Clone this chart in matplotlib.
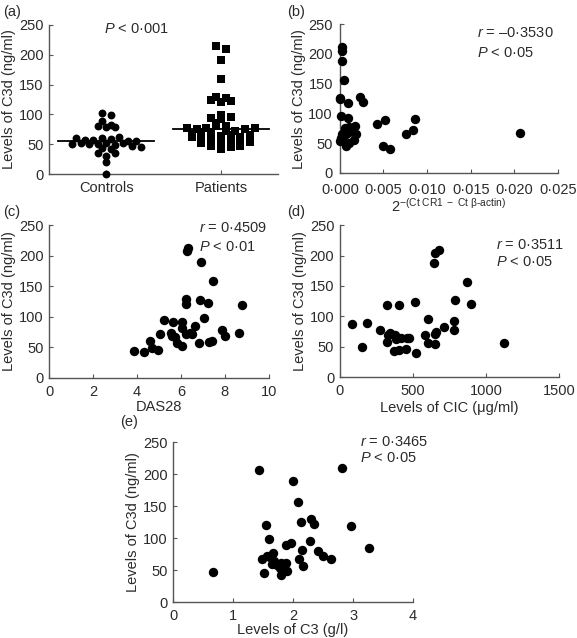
import numpy as np
import matplotlib
matplotlib.use('Agg')
import matplotlib.pyplot as plt
from matplotlib.ticker import FuncFormatter

plt.rcParams['font.family'] = ['Liberation Sans', 'DejaVu Sans']
plt.rcParams['mathtext.fontset'] = 'custom'
plt.rcParams['mathtext.rm'] = 'Liberation Sans'
plt.rcParams['mathtext.it'] = 'Liberation Sans:italic'

# ---- data ----
controls = [102, 99, 89, 80, 79, 79, 82, 60, 58, 57, 61, 59, 62, 56, 50, 52,
            50, 51, 53, 49, 52, 48, 55, 45, 43, 42, 35, 31, 35, 20, 1]
patients = [214, 209, 191, 160, 130, 125, 121, 123, 127, 99, 94, 92, 96, 85,
            81, 78, 76, 78, 80, 67, 70, 71, 72, 73, 75, 77, 64, 65, 63, 62,
            66, 60, 58, 55, 52, 56, 57, 54, 48, 45, 42, 46, 47]
group_medians = [55, 75]
group_names = ['Controls', 'Patients']

cr1_x = [0.0002, 0.0002, 0.0002, 0.0005, 0.0000, 0.0009, 0.0023, 0.0027,
         0.0001, 0.0009, 0.0043, 0.0052, 0.0086, 0.0084, 0.0076, 0.0050,
         0.0058, 0.0006, 0.0007, 0.0010, 0.0012, 0.0017, 0.0018, 0.0001,
         0.0004, 0.0000, 0.0007, 0.0011, 0.0016, 0.0010, 0.0007, 0.0002,
         0.0206, 0.0000]
cr1_y = [211, 205, 188, 156, 124, 118, 127, 120, 96, 93, 82, 89, 90, 72, 65,
         45, 41, 75, 72, 77, 73, 79, 65, 58, 61, 54, 46, 50, 56, 69, 65, 66,
         67, 126]

das_x = [3.86, 4.34, 4.60, 4.67, 4.97, 5.04, 5.24, 5.64, 5.54, 5.58, 5.72,
         5.84, 6.03, 6.03, 6.03, 6.24, 6.24, 6.24, 6.32, 6.29, 6.41, 6.62,
         6.51, 6.86, 6.84, 6.93, 7.07, 7.22, 7.28, 7.40, 7.44, 7.89, 8.01,
         8.65, 8.76]
das_y = [43, 42, 60, 48, 46, 72, 95, 91, 74, 68, 67, 57, 52, 91, 82, 72, 129,
         121, 212, 208, 74, 84, 71, 127, 57, 190, 98, 122, 58, 60, 158, 79,
         68, 73, 120]

cic_x = [85, 150, 186, 274, 321, 325, 332, 377, 386, 404, 370, 404, 415, 453,
         460, 471, 511, 520, 583, 601, 601, 646, 650, 677, 650, 655, 650, 713,
         778, 778, 789, 870, 897, 1121, 345]
cic_y = [88, 49, 89, 78, 119, 58, 70, 69, 62, 118, 43, 44, 65, 46, 65, 65,
         124, 40, 70, 96, 56, 188, 205, 210, 71, 74, 54, 82, 93, 78, 127, 157,
         121, 56, 73]

c3_x = [1.43, 2.82, 1.99, 2.08, 1.55, 2.13, 2.30, 2.34, 2.97, 1.60, 1.88,
        1.97, 2.28, 3.27, 2.14, 2.41, 2.49, 2.63, 2.09, 2.16, 0.66, 1.48,
        1.57, 1.66, 1.62, 1.68, 1.73, 1.79, 1.85, 1.88, 1.78, 1.90, 1.80,
        1.52, 1.65]
c3_y = [206, 210, 189, 157, 120, 125, 130, 122, 119, 98, 90, 92, 95, 84, 81,
        80, 72, 68, 67, 56, 47, 68, 73, 77, 70, 65, 58, 61, 59, 62, 53, 49,
        42, 45, 60]

stats_a = r'$\it{P}$ < 0·001'
stats_b = [r'$\it{r}$ = –0·3530', r'$\it{P}$ < 0·05']
stats_c = [r'$\it{r}$ = 0·4509', r'$\it{P}$ < 0·01']
stats_d = [r'$\it{r}$ = 0·3511', r'$\it{P}$ < 0·05']
stats_e = [r'$\it{r}$ = 0·3465', r'$\it{P}$ < 0·05']

INK = '#2b2b2b'
AXC = '#555555'
FS = 10.5
DOT = 46


def swarm_offsets(vals, bin_w=9.0, dx=0.08):
    vals = np.asarray(vals, dtype=float)
    bins = np.floor(vals / bin_w).astype(int)
    off = np.zeros(len(vals))
    for b in np.unique(bins):
        idx = np.where(bins == b)[0]
        n = len(idx)
        off[idx] = (np.arange(n) - (n - 1) / 2) * dx
    return off


def dot_fmt(dec):
    return FuncFormatter(lambda v, p: f'{v:.{dec}f}'.replace('.', '·'))


def style(ax):
    for s in ['top', 'right']:
        ax.spines[s].set_visible(False)
    for s in ['left', 'bottom']:
        ax.spines[s].set_color(AXC)
        ax.spines[s].set_linewidth(1.0)
    ax.tick_params(direction='in', length=3, width=0.8, color=AXC,
                   labelsize=FS, labelcolor=INK, pad=4)
    ax.tick_params(axis='x', pad=5)
    ax.set_ylim(0, 250)
    ax.set_yticks([0, 50, 100, 150, 200, 250])
    ax.set_ylabel('Levels of C3d (ng/ml)', fontsize=FS, color=INK, labelpad=2)
    ax.margins(0)


def stats_text(ax, lines, x, y1, y2):
    ax.text(x, y1, lines[0], transform=ax.transAxes, fontsize=FS, color=INK,
            va='center', ha='left')
    ax.text(x, y2, lines[1], transform=ax.transAxes, fontsize=FS, color=INK,
            va='center', ha='left')


fig = plt.figure(figsize=(5.77, 6.38), dpi=100)

# ── (a) controls vs patients ─────────────────────────────────────────
ax_a = fig.add_axes([0.085, 0.727, 0.397, 0.234])
style(ax_a)
ax_a.scatter(1 + swarm_offsets(controls, dx=0.075), controls, s=32,
             marker='o', color='black', linewidths=0, zorder=3, clip_on=False)
ax_a.scatter(2 + swarm_offsets(patients, dx=0.085), patients, s=38,
             marker='s', color='black', linewidths=0, zorder=3)
for i, m in enumerate(group_medians):
    ax_a.plot([i + 1 - 0.42, i + 1 + 0.42], [m, m], color='black', lw=1.3,
              zorder=4)
ax_a.set_xlim(0.5, 2.5)
ax_a.set_xticks([1, 2])
ax_a.set_xticklabels(group_names)
ax_a.text(0.38, 0.97, stats_a, transform=ax_a.transAxes, fontsize=FS,
          color=INK, ha='center', va='center')

# ── (b) CR1 expression ───────────────────────────────────────────────
ax_b = fig.add_axes([0.589, 0.729, 0.378, 0.233])
style(ax_b)
ax_b.tick_params(axis='x', pad=7)
ax_b.tick_params(axis='y', pad=5)
ax_b.scatter(cr1_x, cr1_y, s=DOT, color='black', linewidths=0, zorder=3,
             clip_on=False)
ax_b.set_xlim(0, 0.025)
ax_b.set_xticks([0, 0.005, 0.010, 0.015, 0.020, 0.025])
ax_b.xaxis.set_major_formatter(dot_fmt(3))
ax_b.set_xlabel(r'$\mathregular{2^{-(Ct\ CR1\ -\ Ct\ \beta\text{-}actin)}}$',
                fontsize=FS, color=INK, labelpad=0)
stats_text(ax_b, stats_b, 0.63, 0.94, 0.805)

# ── (c) DAS28 ────────────────────────────────────────────────────────
ax_c = fig.add_axes([0.085, 0.408, 0.381, 0.239])
style(ax_c)
ax_c.scatter(das_x, das_y, s=DOT, color='black', linewidths=0, zorder=3)
ax_c.set_xlim(0, 10)
ax_c.set_xticks([0, 2, 4, 6, 8, 10])
ax_c.set_xlabel('DAS28', fontsize=FS, color=INK, labelpad=1)
stats_text(ax_c, stats_c, 0.68, 0.98, 0.86)

# ── (d) CIC ──────────────────────────────────────────────────────────
ax_d = fig.add_axes([0.589, 0.409, 0.380, 0.238])
style(ax_d)
ax_d.scatter(cic_x, cic_y, s=DOT, color='black', linewidths=0, zorder=3)
ax_d.set_xlim(0, 1500)
ax_d.set_xticks([0, 500, 1000, 1500])
ax_d.set_xlabel('Levels of CIC (μg/ml)', fontsize=FS, color=INK, labelpad=2)
stats_text(ax_d, stats_d, 0.71, 0.87, 0.76)

# ── (e) C3 ───────────────────────────────────────────────────────────
ax_e = fig.add_axes([0.300, 0.056, 0.416, 0.251])
style(ax_e)
ax_e.scatter(c3_x, c3_y, s=DOT, color='black', linewidths=0, zorder=3)
ax_e.set_xlim(0, 4)
ax_e.set_xticks([0, 1, 2, 3, 4])
ax_e.set_xlabel('Levels of C3 (g/l)', fontsize=FS, color=INK, labelpad=0)
stats_text(ax_e, stats_e, 0.78, 1.0, 0.9)

# panel letters
for lab, x, y in [('(a)', 3, 12), ('(b)', 287, 12), ('(c)', 3, 212),
                  ('(d)', 287, 212), ('(e)', 120, 422)]:
    fig.text(x / 577, 1 - y / 638, lab, fontsize=FS, color=INK,
             ha='left', va='center')

fig.savefig('out.png', dpi=100)
plt.close(fig)
